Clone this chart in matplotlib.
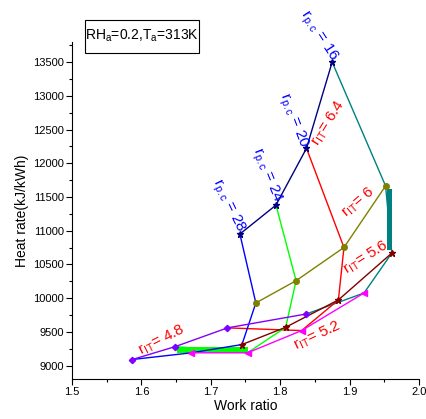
import matplotlib
matplotlib.use("Agg")
import matplotlib.pyplot as plt
from matplotlib.patches import Rectangle
from matplotlib.ticker import MultipleLocator

plt.rcParams['font.family'] = ['Liberation Sans', 'DejaVu Sans']
plt.rcParams['mathtext.fontset'] = 'custom'
plt.rcParams['mathtext.rm'] = 'Liberation Sans'
plt.rcParams['mathtext.it'] = 'Liberation Sans'

# Pressure ratios of the compressor (columns) and turbine ratios (rows)
r_pc = [16, 20, 24, 28]
r_IT = [6.4, 6.0, 5.6, 5.2, 4.8]

# Work ratio values, rows follow r_IT, columns follow r_pc
work_64 = [1.875, 1.838, 1.794, 1.742]
work_60 = [1.952, 1.892, 1.823, 1.765]
work_56 = [1.961, 1.884, 1.808, 1.745]
work_52 = [1.921, 1.831, 1.753, 1.672]
work_48 = [1.838, 1.724, 1.649, 1.587]

# Heat rate values (kJ/kWh)
heat_64 = [13500, 12222, 11379, 10950]
heat_60 = [11664, 10751, 10258, 9928]
heat_56 = [10668, 9973, 9567, 9311]
heat_52 = [10076, 9518, 9188, 9188]
heat_48 = [9765, 9558, 9281, 9089]

work = [work_64, work_60, work_56, work_52, work_48]
heat = [heat_64, heat_60, heat_56, heat_52, heat_48]

rit_colors = ['#000080', '#808000', '#800000', '#ff00ff', '#8000ff']
rit_markers = ['*', 'o', '*', '<', 'D']
rit_msize = [4.5, 4, 4.5, 4.5, 3.2]
rpc_colors = ['#008080', '#ff0000', '#00ff00', '#0000ff']

fig = plt.figure(figsize=(4.27, 4.19), dpi=100)
ax = fig.add_axes([0.1686, 0.0955, 0.8124, 0.8045])

# highlight bars (between r_IT = 6 and 5.6 at r_pc = 16; between 5.2 and 4.8 at r_pc = 24)
for (ri1, ri2, cj, col, yin) in [(1, 2, 0, '#008080', 40), (4, 3, 2, '#00ff00', 0)]:
    x0, x1 = sorted([work[ri1][cj], work[ri2][cj]])
    y0, y1 = sorted([heat[ri1][cj], heat[ri2][cj]])
    ax.add_patch(Rectangle((x0 + 0.002, y0 + yin), x1 - x0 - 0.002, y1 - y0 - 2 * yin,
                           facecolor=col, edgecolor='none', zorder=1))

# constant r_pc lines
for j, c in enumerate(rpc_colors):
    xs = [work[i][j] for i in range(len(r_IT))]
    ys = [heat[i][j] for i in range(len(r_IT))]
    ax.plot(xs, ys, color=c, lw=1.0, zorder=2)

# constant r_IT lines
for i, c in enumerate(rit_colors):
    ax.plot(work[i], heat[i], color=c, lw=1.0, marker=rit_markers[i],
            ms=rit_msize[i], mec=c, mfc=c, zorder=3)

ax.set_xlim(1.5, 2.0)
ax.set_ylim(8800, 13800)
ax.xaxis.set_major_locator(MultipleLocator(0.1))
ax.xaxis.set_minor_locator(MultipleLocator(0.05))
ax.yaxis.set_minor_locator(MultipleLocator(250))
ax.set_yticks([9000, 9500, 10000, 10500, 11000, 11500, 12000, 12500, 13000, 13500])
ax.tick_params(which='major', direction='out', length=4, width=0.8, labelsize=8, pad=2)
ax.tick_params(which='minor', direction='out', length=2.5, width=0.8)
ax.spines['top'].set_visible(False)
ax.spines['right'].set_visible(False)
ax.set_xlabel('Work ratio', fontsize=10, labelpad=1)
ax.set_ylabel('Heat rate(kJ/kWh)', fontsize=10, labelpad=3)

# labels for r_pc lines
pc_lab = [(1.8545, 13885, -57), (1.8184, 12641, -69), (1.7795, 11827, -68), (1.7248, 11368, -64)]
for k, (x, y, rot) in enumerate(pc_lab):
    ax.text(x, y, r'r$_{\rm p.c}$ = %d' % r_pc[k], color='#0000ff', fontsize=11,
            rotation=rot, ha='center', va='center', rotation_mode='anchor')

# labels for r_IT lines
it_lab = [(1.8700, 12600, 58), (1.912, 11413, 40), (1.9236, 10599, 32), (1.8545, 9444, 25), (1.6297, 9370, 27)]
for k, (x, y, rot) in enumerate(it_lab):
    s = ('%g' % r_IT[k])
    ax.text(x, y, r'r$_{\rm IT}$= ' + s, color='#ff0000', fontsize=11,
            rotation=rot, ha='center', va='center', rotation_mode='anchor')

# condition box
fig.add_artist(Rectangle((0.199, 0.874), 0.267, 0.078, transform=fig.transFigure,
                         facecolor='white', edgecolor='black', lw=0.8))
fig.text(0.3333, 0.905, r'RH$_{\rm a}$=0.2,T$_{\rm a}$=313K', fontsize=10,
         ha='center', va='baseline')

fig.savefig('out.png', dpi=100)
